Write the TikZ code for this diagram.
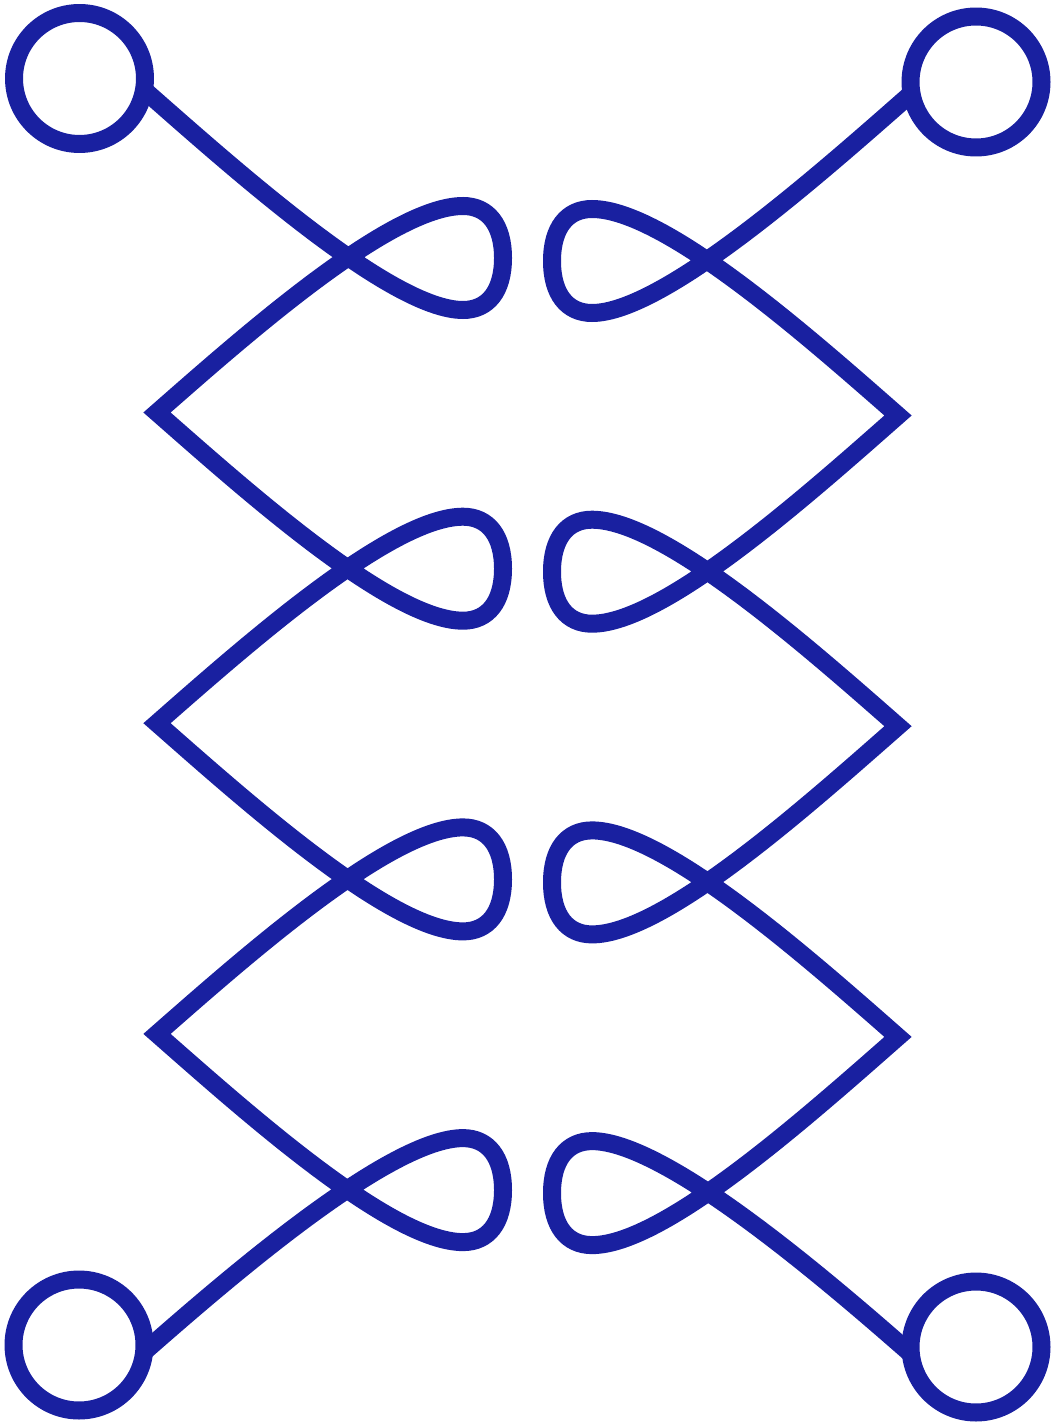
\documentclass[tikz,border=0pt]{standalone}
\usepackage{tikz}
\usetikzlibrary{calc}
\definecolor{chainblue}{RGB}{25,32,160}

\tikzset{
  ring/.style={circle,draw=chainblue,line width=0.36cm,minimum size=2.62cm,inner sep=0pt,outer sep=0pt},
  strand/.style={draw=chainblue,line width=0.36cm,line join=miter},
}

\begin{document}
\begin{tikzpicture}[x=0.02cm,y=-0.02cm]
    \useasboundingbox (0,0) rectangle (1054,1425);

    % Rings
    \node[ring] (tl) at (79.5,78.5) {};
    \node[ring] (tr) at (976,82) {};
    \node[ring] (bl) at (79,1345) {};
    \node[ring] (br) at (976,1347) {};

    % Ends, turning points and crossings
    \coordinate (l0) at (tl.-10);
    \coordinate (r0) at (tr.-170);
    \coordinate (l4) at (bl.-6);
    \coordinate (r4) at (br.-174);
    \foreach \k in {1,2,3} {
        \coordinate (l\k) at (157,{412.5+310.7*(\k-1)});
        \coordinate (r\k) at (898,{415.5+310.7*(\k-1)});
    }
    \foreach \k in {0,...,3} {
        \coordinate (cl\k) at (345,{258+310.7*\k});
        \coordinate (cr\k) at (710,{261+310.7*\k});
    }

    % Left strand
    \draw[strand] (l0)
        \foreach \k/\j in {0/1,1/2,2/3,3/4} {
            .. controls +(90,79) and +(-72,0) .. ($(cl\k)+(118,52)$)
            .. controls +(25,0) and +(0,33) .. ($(cl\k)+(158,0)$)
            .. controls +(0,-33) and +(25,0) .. ($(cl\k)+(118,-52)$)
            .. controls +(-72,0) and +(90,-79) .. (l\j)
        };

    % Right strand
    \draw[strand] (r0)
        \foreach \k/\j in {0/1,1/2,2/3,3/4} {
            .. controls +(-90,79) and +(72,0) .. ($(cr\k)+(-118,52)$)
            .. controls +(-25,0) and +(0,33) .. ($(cr\k)+(-158,0)$)
            .. controls +(0,-33) and +(-25,0) .. ($(cr\k)+(-118,-52)$)
            .. controls +(72,0) and +(-90,-79) .. (r\j)
        };
\end{tikzpicture}
\end{document}
